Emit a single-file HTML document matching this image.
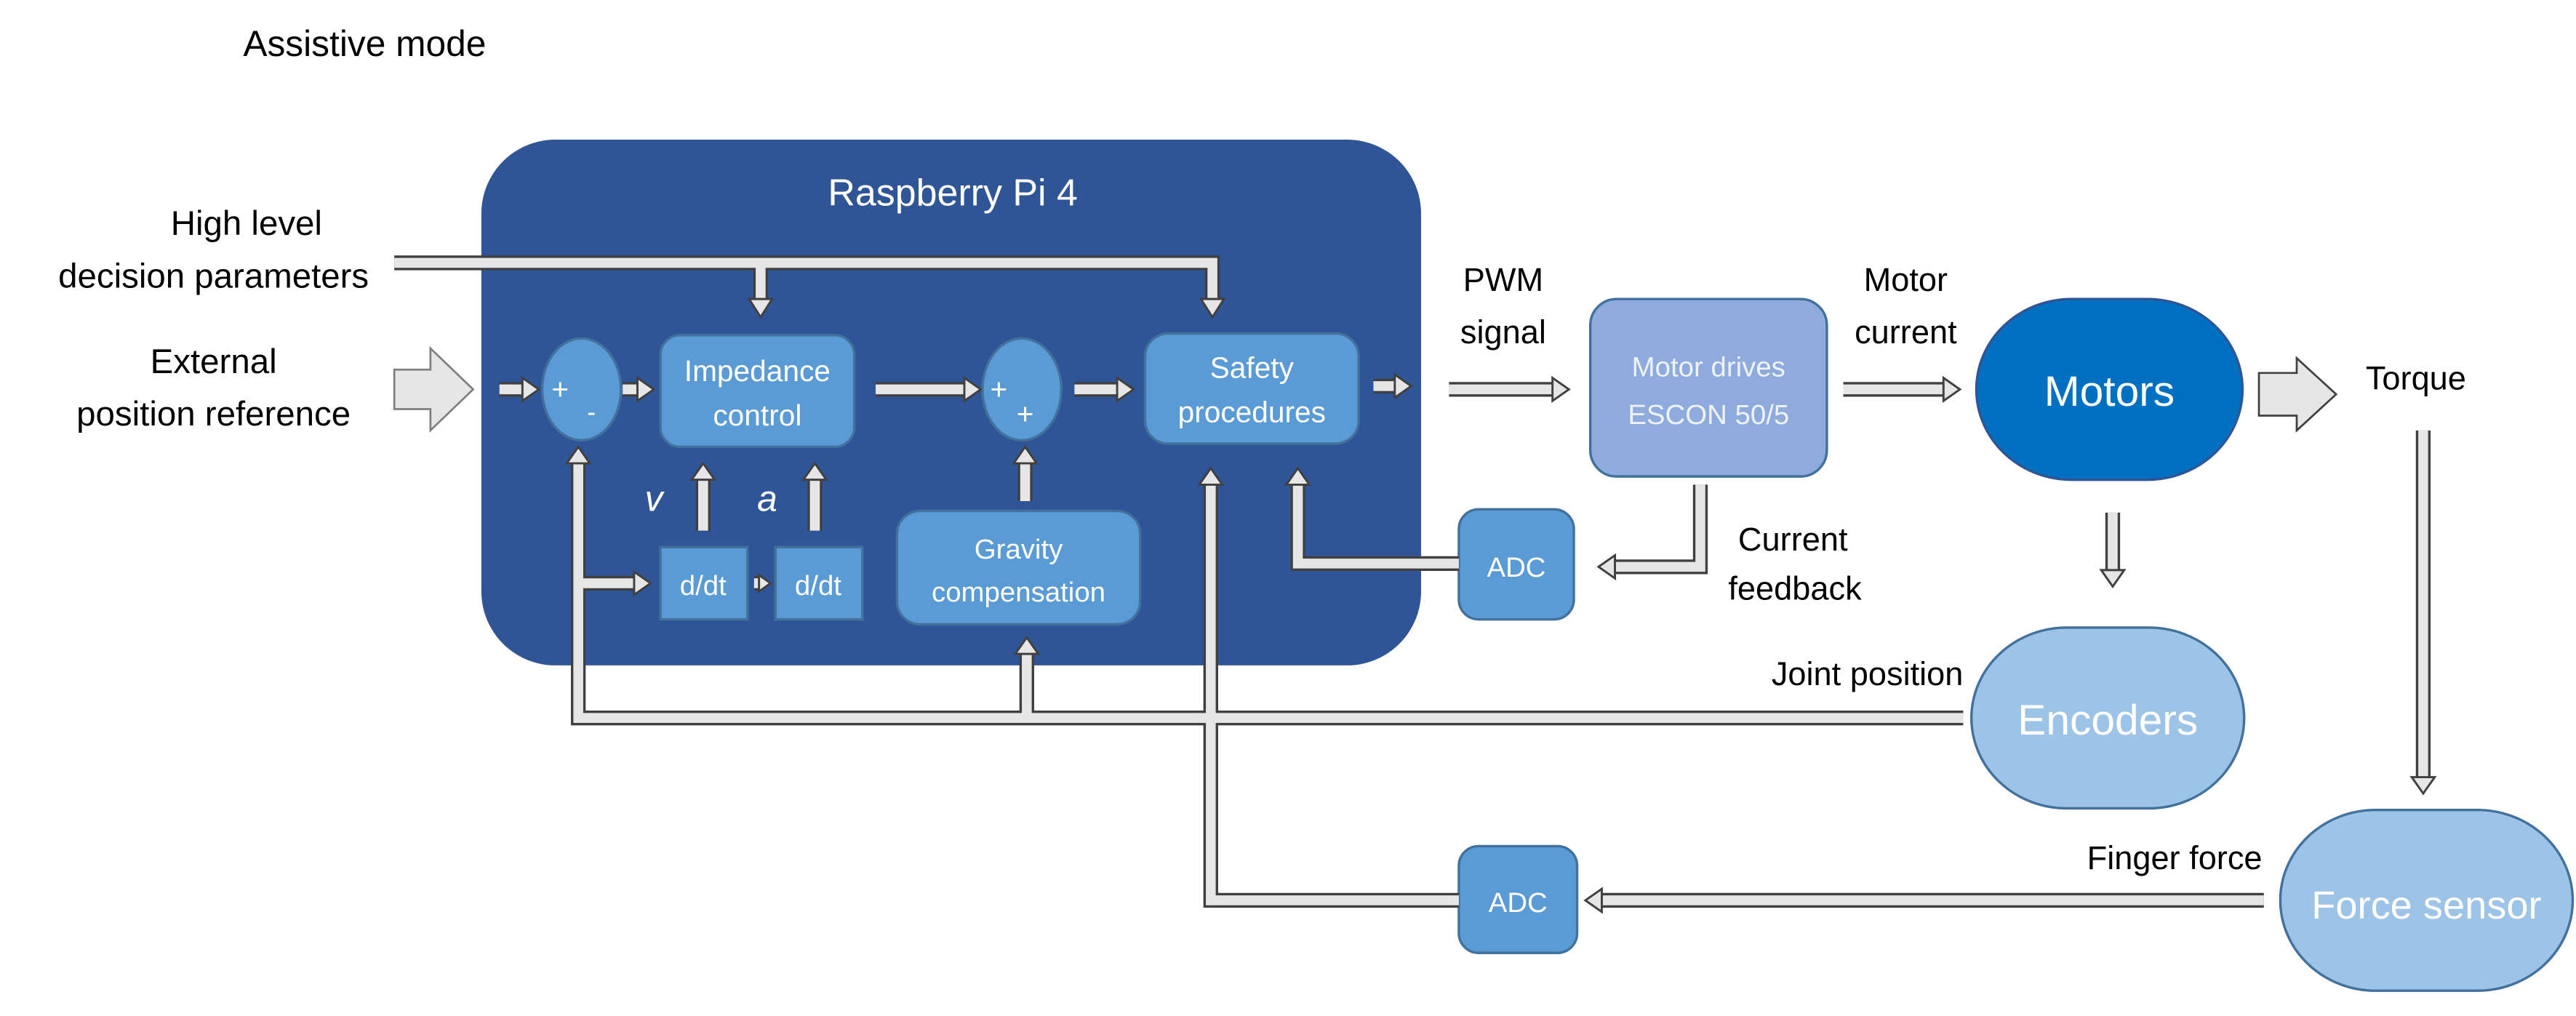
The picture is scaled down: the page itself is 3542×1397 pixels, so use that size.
<!DOCTYPE html>
<html><head><meta charset="utf-8"><style>
html,body{margin:0;padding:0;background:#fff;}
svg{display:block;}
text{font-family:"Liberation Sans",sans-serif;}
</style></head><body>
<svg width="3542" height="1397" viewBox="0 0 1568 618.4" preserveAspectRatio="none" xmlns="http://www.w3.org/2000/svg">
<defs>
<g id="shafts">
<path d="M240 160 H738 V182"/>
<path d="M463 160 V182"/>
<path d="M304 237 H318"/>
<path d="M379 237 H388"/>
<path d="M533 237 H587"/>
<path d="M654 237 H680"/>
<path d="M836 235 H849"/>
<path d="M882 237 H945"/>
<path d="M1122 237 H1183"/>
<path d="M1475 262 V473"/>
<path d="M1286 312 V347"/>
<path d="M1035 295 V345 H983"/>
<path d="M888 343 H790 V295"/>
<path d="M888 548 H737 V295"/>
<path d="M1195 437 H352 V282"/>
<path d="M625 437 V398"/>
<path d="M352 355 H386"/>
<path d="M459 355 H462"/>
<path d="M428 323 V292"/>
<path d="M496 323 V292"/>
<path d="M624 305 V282"/>
<path d="M1378 548 H975"/>
</g>
<g id="heads">
<polygon points="731,182 738,193 745,182"/>
<polygon points="456,182 463,193 470,182"/>
<polygon points="318,230 328,237 318,244"/>
<polygon points="388,230 398,237 388,244"/>
<polygon points="587,230 597,237 587,244"/>
<polygon points="680,230 690,237 680,244"/>
<polygon points="849,228 859,235 849,242"/>
<polygon points="945,230 955,237 945,244"/>
<polygon points="1183,230 1193,237 1183,244"/>
<polygon points="1468,473 1475,483 1482,473"/>
<polygon points="1279,347 1286,357 1293,347"/>
<polygon points="983,338 973,345 983,352"/>
<polygon points="783,295 790,285 797,295"/>
<polygon points="345,282 352,272 359,282"/>
<polygon points="618,398 625,388 632,398"/>
<polygon points="386,348 396,355 386,362"/>
<polygon points="462,350 469,355 462,360"/>
<polygon points="421,292 428,282 435,292"/>
<polygon points="489,292 496,282 503,292"/>
<polygon points="617,282 624,272 631,282"/>
<polygon points="975,541 965,548 975,555"/>
<polygon points="730,295 737,285 744,295"/>
</g>
</defs>

<text x="148" y="34" font-size="22" fill="#000">Assistive mode</text>

<rect x="293" y="85" width="572" height="320" rx="45" ry="45" fill="#2F5597"/>
<text x="580" y="125" font-size="23" fill="#fff" text-anchor="middle">Raspberry Pi 4</text>

<!-- left labels -->
<text x="150" y="143" font-size="21" text-anchor="middle">High level</text>
<text x="130" y="175" font-size="21" text-anchor="middle">decision parameters</text>
<text x="130" y="227" font-size="21" text-anchor="middle">External</text>
<text x="130" y="259" font-size="21" text-anchor="middle">position reference</text>

<polygon points="240,225 262,225 262,212 288,237 262,262 262,249 240,249" fill="#E7E6E6" stroke="#7f7f7f" stroke-width="1.2"/>
<polygon points="1375,227 1398,227 1398,218 1422,240 1398,262 1398,253 1375,253" fill="#E7E6E6" stroke="#404040" stroke-width="1.2"/>

<!-- inner blocks -->
<g fill="#5B9BD5" stroke="#41719C" stroke-width="1.5">
<ellipse cx="354" cy="237" rx="24" ry="31"/>
<rect x="402" y="204" width="118" height="68" rx="12"/>
<ellipse cx="622" cy="237" rx="24" ry="31"/>
<rect x="697" y="203" width="130" height="67" rx="14"/>
<rect x="402" y="333" width="53" height="44"/>
<rect x="472" y="333" width="53" height="44"/>
<rect x="546" y="311" width="148" height="69" rx="14"/>
<rect x="888" y="310" width="70" height="67" rx="12"/>
<rect x="888" y="515" width="72" height="65" rx="12"/>
</g>
<rect x="968" y="182" width="144" height="108" rx="16" fill="#8FAADC" stroke="#41719C" stroke-width="1.5"/>
<rect x="1203" y="182" width="162" height="110" rx="58" fill="#0070C0" stroke="#2F5597" stroke-width="1.5"/>
<rect x="1200" y="382" width="166" height="110" rx="58" fill="#9DC3E6" stroke="#41719C" stroke-width="1.5"/>
<rect x="1388" y="493" width="178" height="110" rx="58" fill="#9DC3E6" stroke="#41719C" stroke-width="1.5"/>

<!-- connectors -->
<g fill="none" stroke="#404040" stroke-width="9" stroke-linejoin="miter"><use href="#shafts"/></g>
<g fill="none" stroke="#E7E6E6" stroke-width="6" stroke-linejoin="miter"><use href="#shafts"/></g>
<g fill="#E7E6E6" stroke="#404040" stroke-width="1.3"><use href="#heads"/></g>

<!-- texts in blocks -->
<g fill="#fff" font-size="18" text-anchor="middle">
<text x="341" y="243">+</text>
<text x="360" y="256" font-size="16">-</text>
<text x="608" y="243">+</text>
<text x="624" y="258">+</text>
<text x="461" y="232">Impedance</text>
<text x="461" y="259">control</text>
<text x="762" y="230">Safety</text>
<text x="762" y="257">procedures</text>
<text x="428" y="362" font-size="17">d/dt</text>
<text x="498" y="362" font-size="17">d/dt</text>
<text x="620" y="340" font-size="17">Gravity</text>
<text x="620" y="366" font-size="17">compensation</text>
<text x="923" y="351" font-size="17">ADC</text>
<text x="924" y="555" font-size="17">ADC</text>
<text x="1040" y="229" font-size="17" fill="#EEF3FB">Motor drives</text>
<text x="1040" y="258" font-size="17" fill="#EEF3FB">ESCON 50/5</text>
<text x="1284" y="247" font-size="26">Motors</text>
<text x="1283" y="447" font-size="26">Encoders</text>
<text x="1477" y="559" font-size="24">Force sensor</text>
</g>
<text x="398" y="311" font-size="22" fill="#fff" font-style="italic" text-anchor="middle">v</text>
<text x="467" y="311" font-size="22" fill="#fff" font-style="italic" text-anchor="middle">a</text>

<!-- outside labels -->
<g font-size="20" fill="#000">
<text x="915" y="177" text-anchor="middle">PWM</text>
<text x="915" y="209" text-anchor="middle">signal</text>
<text x="1160" y="177" text-anchor="middle">Motor</text>
<text x="1160" y="209" text-anchor="middle">current</text>
<text x="1440" y="237">Torque</text>
<text x="1058" y="335">Current</text>
<text x="1052" y="365">feedback</text>
<text x="1195" y="417" text-anchor="end">Joint position</text>
<text x="1377" y="529" text-anchor="end">Finger force</text>
</g>
</svg>
</body></html>
